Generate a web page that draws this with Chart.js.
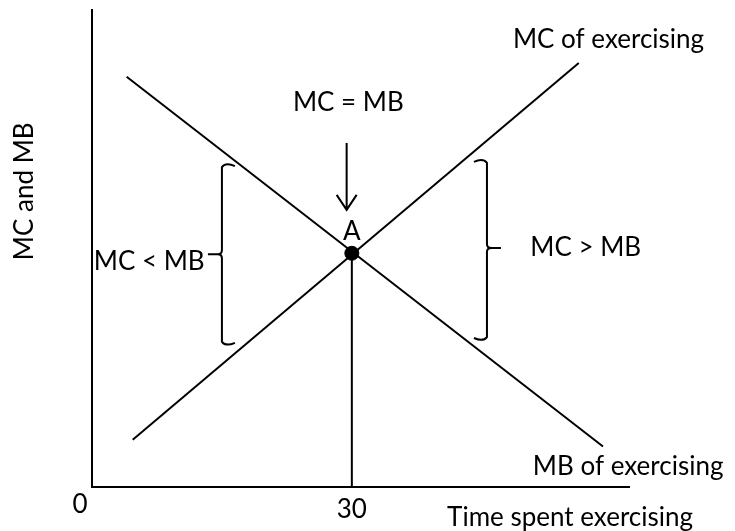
<!DOCTYPE html>
<html>
<head>
<meta charset="utf-8">
<script src="https://cdn.jsdelivr.net/npm/chart.js@4.4.0/dist/chart.umd.min.js"></script>
<style>
  html, body { margin: 0; padding: 0; background: #fff; }
  #wrap { width: 735px; height: 531px; }
</style>
</head>
<body>
<div id="wrap"><canvas id="chart"></canvas></div>
<script>
// curve end points (time, MC/MB)
const mbX = [4, 59];
const mbY = [86, 8.5];
const mcX = [4.7, 56.2];
const mcY = [9.9, 88.9];
// equilibrium point A
const eqX = [30];
const eqY = [49];
const xTicks = [0, 30];

const fontFam = 'Lato, "Open Sans", sans-serif';

function pts(xs, ys) {
    return xs.map((x, i) => ({ x: x, y: ys[i] }));
}

// braces, arrow and text labels
const notes = {
    id: "notes",
    afterDraw(chart) {
        const ctx = chart.ctx;
        const xs = chart.scales.x, ys = chart.scales.y;
        const px = v => xs.getPixelForValue(v);
        const py = v => ys.getPixelForValue(v);

        ctx.save();
        ctx.strokeStyle = "#000";
        ctx.fillStyle = "#000";
        ctx.lineWidth = 2;

        // brace: x = spine, y1 top, y2 bottom, ym tip, dir -1 points left
        function brace(x, y1, y2, ym, dir) {
            const h = 13 * -dir, t = 14 * dir, r = 4;
            ctx.beginPath();
            ctx.moveTo(x + h, y1 + 3);
            ctx.quadraticCurveTo(x + h * 0.3, y1 - 1, x, y1 + r);
            ctx.lineTo(x, ym - r);
            ctx.quadraticCurveTo(x, ym, x + t * 0.3, ym);
            ctx.lineTo(x + t, ym);
            ctx.moveTo(x + t * 0.3, ym);
            ctx.quadraticCurveTo(x, ym, x, ym + r);
            ctx.lineTo(x, y2 - r);
            ctx.quadraticCurveTo(x + h * 0.3, y2 + 1, x + h, y2 - 3);
            ctx.stroke();
        }
        brace(px(15), py(67.9), py(29.6), py(48.8), -1);
        brace(px(45.6), py(68.8), py(30.6), py(50.1), 1);

        // arrow pointing at A
        const ax = px(29.4), at = py(72.1), ab = py(58.1);
        ctx.beginPath();
        ctx.moveTo(ax, at);
        ctx.lineTo(ax, ab);
        ctx.moveTo(ax - 10, ab - 15);
        ctx.lineTo(ax, ab);
        ctx.lineTo(ax + 10, ab - 15);
        ctx.stroke();

        ctx.font = "26px " + fontFam;
        ctx.textBaseline = "middle";
        function txt(s, x, y, align) {
            ctx.textAlign = align;
            ctx.fillText(s, x, y);
        }
        txt("MC of exercising", px(48.6), py(93.7), "left");
        txt("MC = MB", px(29.6), py(80.5), "center");
        txt("A", px(30), py(53.5), "center");
        txt("MC < MB", px(13), py(47.2), "right");
        txt("MC > MB", px(50.6), py(50.1), "left");
        txt("MB of exercising", px(50.9), py(4.2), "left");

        // axis labels
        const base = ys.bottom;
        txt(String(xTicks[0]), px(xTicks[0]) - 12, base + 18, "center");
        txt(String(xTicks[1]), px(xTicks[1]), base + 23, "center");
        txt("Time spent exercising", px(41), base + 31, "left");

        ctx.translate(25, py(62));
        ctx.rotate(-Math.PI / 2);
        txt("MC and MB", 0, 0, "center");
        ctx.restore();
    }
};

const ctx = document.getElementById("chart").getContext("2d");

const lineStyle = {
    showLine: true,
    borderColor: "#000",
    borderWidth: 2,
    pointRadius: 0,
    fill: false
};

new Chart(ctx, {
    type: "scatter",
    data: {
        datasets: [
            Object.assign({ label: "MB of exercising", data: pts(mbX, mbY) }, lineStyle),
            Object.assign({ label: "MC of exercising", data: pts(mcX, mcY) }, lineStyle),
            Object.assign({ label: "Time at A", data: [{ x: eqX[0], y: eqY[0] }, { x: eqX[0], y: 0 }] }, lineStyle),
            {
                label: "A",
                data: pts(eqX, eqY),
                pointRadius: 7,
                pointBackgroundColor: "#000",
                pointBorderColor: "#000",
                showLine: false
            }
        ]
    },
    options: {
        responsive: true,
        maintainAspectRatio: false,
        animation: false,
        layout: { padding: { top: 10, right: 106, left: 0, bottom: 0 } },
        plugins: {
            legend: { display: false },
            tooltip: { enabled: false }
        },
        scales: {
            x: {
                type: "linear",
                min: 0,
                max: 62,
                grid: { display: false, drawTicks: false },
                border: { color: "#000", width: 2 },
                ticks: { display: false },
                afterFit: s => { s.height = 44; }
            },
            y: {
                type: "linear",
                min: 0,
                max: 100,
                grid: { display: false, drawTicks: false },
                border: { color: "#000", width: 2 },
                ticks: { display: false },
                afterFit: s => { s.width = 92; }
            }
        }
    },
    plugins: [notes]
});
</script>
</body>
</html>
